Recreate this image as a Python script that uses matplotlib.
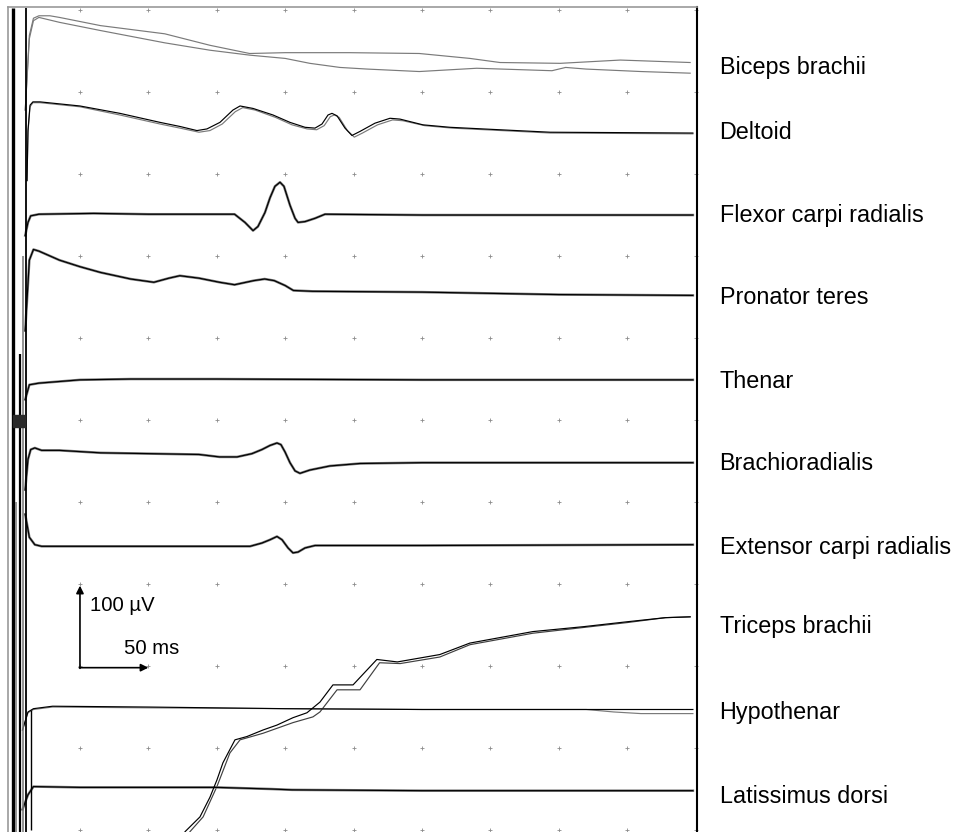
import matplotlib
matplotlib.use("Agg")
import matplotlib.pyplot as plt
from matplotlib.patches import Rectangle
import numpy as np

plt.rcParams['font.family'] = ['Liberation Sans', 'DejaVu Sans']

# ---------------- data ----------------
muscles = ["Biceps brachii", "Deltoid", "Flexor carpi radialis", "Pronator teres",
           "Thenar", "Brachioradialis", "Extensor carpi radialis", "Triceps brachii",
           "Hypothenar", "Latissimus dorsi"]
# vertical offset of each channel (µV) and of its label
offsets_uV = [-70, -149, -249, -348, -451, -552, -652, -751, -854, -952]
label_uV = [-78, -157, -259, -358, -461, -561, -663, -760, -865, -967]

# time (ms) and amplitude (µV, relative to channel offset) of the two superimposed responses
biceps_t1 = [10, 13, 16, 20, 28, 35, 65, 112, 145, 174, 200, 247, 298, 335, 357, 401, 445, 496]
biceps_v1 = [-52, 39, 60, 63, 63, 61, 51, 41, 27, 17, 18, 18, 17, 11, 6, 5, 9, 6]
biceps_t2 = [10, 13, 16, 20, 35, 65, 112, 145, 174, 200, 218, 240, 260, 298, 340, 395, 405, 420, 460, 496]
biceps_v2 = [-52, 35, 57, 61, 55, 45, 30, 21, 15, 11, 5, 0, -2, -5, -1, -4, 0, -2, -5, -7]

deltoid_t1 = [11.3, 12, 13.5, 15.6, 20.8, 50, 79.2, 108.5, 123.1, 135.5, 142.8, 152.3, 161.8, 167,
              176.5, 191.1, 203.5, 214.5, 221.8, 226.9, 231.3, 234.2, 237.9, 243.7, 248.8, 254.7,
              265.6, 276.6, 283.9, 300.7, 320.5, 344.6, 393.6, 498]
deltoid_v1 = [-59, 2, 33, 37, 37, 32, 23, 12, 7, 2, 4, 12, 27, 32, 29, 21, 12, 6, 5, 10, 21, 23,
              20, 5, -4, 1, 11, 17, 16, 9, 6, 4, 0, -1]
deltoid_t2 = [11.3, 12, 13.5, 15.6, 20.8, 50, 79.2, 108.5, 123.1, 137, 145, 154, 163.5, 169, 178,
              193, 205, 216, 223, 228.5, 233, 236, 239.5, 245.5, 250.5, 256.5, 267.5, 278.5, 286,
              302, 322, 346, 394, 498]
deltoid_v2 = [-59, 0, 31, 36, 36, 31, 21, 10, 5, 0, 2, 10, 25, 30, 27, 18, 9, 4, 3, 8, 19, 21, 18,
              2, -6, -1, 9, 15, 14, 8, 5, 3, -1, -2]

flexor_t = [10, 12, 14, 20, 60, 100, 163, 170.6, 176.5, 180.1, 185.2, 188.9, 192.5, 196.2, 199.1,
            203.5, 207.2, 209.4, 214.5, 221.8, 229.1, 300, 498]
flexor_v = [-26, -10, -2, 0, 1, 0, 0, -10, -20, -15, 2, 20, 34, 39, 34, 11, -5, -10, -9, -5, 0, -1, -1]

pronator_t = [10, 13, 16, 20, 35, 50, 65, 87, 104, 115, 123, 137, 152, 163, 177, 185, 192, 200,
              206, 220, 300, 400, 498]
pronator_v = [-43, 43, 56, 54, 43, 35, 28, 20, 16, 21, 24, 21, 16, 13, 18, 20, 18, 12, 6, 5, 4, 1, 0]

thenar_t = [10, 13, 20, 50, 87, 150, 300, 498]
thenar_v = [-24, -6, -4, 0, 1, 1, 0, 0]

brachio_t = [10, 12, 14, 17, 22, 35, 65, 101, 137, 152, 164.8, 175.7, 183, 188.9, 194, 196.9,
             199.9, 203.5, 207.2, 210.8, 218, 232.7, 254.7, 300, 498]
brachio_v = [-33, 4, 16, 18, 15, 15, 12, 11, 10, 7, 7, 11, 16, 21, 24, 22, 13, 0, -10, -13, -9,
             -4, -1, 0, 0]

extensor_t = [10, 13, 17, 22, 50, 100, 150, 174.3, 183, 188.9, 194, 197.7, 202.1, 205.7, 209.4,
              214.5, 221.8, 300, 498]
extensor_v = [37, 9, 0, -2, -2, -2, -2, -2, 2, 6, 10, 6, -4, -10, -9, -4, -1, -1, 0]

triceps_t1 = [120, 126.8, 137.7, 145, 150.1, 154.5, 163.3, 172, 183.8, 194, 205.7, 215.9, 225.4,
              234.9, 249.6, 267, 282, 313, 335, 381, 418, 450, 478, 496]
triceps_v1 = [-275, -251, -233, -209, -188, -167, -139, -135, -127, -121, -112, -106, -93, -72,
              -72, -41, -44, -35, -21, -7, -1, 5, 10, 11]
triceps_t2 = [124, 130.4, 140, 150.1, 159.6, 167, 183.8, 205.7, 220.3, 225.4, 237.9, 254.7, 269,
              284, 313, 335, 381, 418, 450, 478, 496]
triceps_v2 = [-275, -251, -233, -196, -155, -139, -131, -118, -111, -105, -78, -78, -45, -46,
              -38, -23, -9, -2, 4, 10, 11]

hypo_t1 = [8, 12, 16, 30, 100, 200, 300, 420, 498]
hypo_v1 = [-24, -2, 2, 5, 4, 2, 1, 1, 1]
hypo_t2 = [8, 12, 16, 30, 100, 200, 300, 420, 440, 460, 498]
hypo_v2 = [-24, -3, 1, 4, 3, 2, 1, 1, -2, -4, -4]

lat_t = [8, 12, 16, 50, 150, 190, 205, 300, 498]
lat_v = [-23, -5, 5, 4, 4, 2, 1, 0, 0]

# stimulus artefact (time ms, top µV, bottom µV, colour, width)
artefact_t = [0.8, 10.5, 8.5, 6.5, 3.5, 14.5]
artefact_top = [3, 3, -300, -420, -600, -854]
artefact_bot = [-1003, -1003, -1003, -1003, -1003, -1000]
artefact_col = ['black', 'black', '#808080', 'black', '#808080', 'black']
artefact_lw = [2.4, 1.3, 1.2, 1.6, 1.2, 1.0]

scale_uV = 100
scale_ms = 50
scale_origin = (50, -802)

grid_t = [50, 100, 150, 200, 250, 300, 350, 400, 450, 500]
grid_v = [0, -100, -200, -300, -400, -500, -600, -700, -800, -900, -1000]

GRAY = '#7a7a7a'
channels = [
    (biceps_t1, biceps_v1, GRAY, biceps_t2, biceps_v2, GRAY),
    (deltoid_t2, deltoid_v2, GRAY, deltoid_t1, deltoid_v1, 'black'),
    (flexor_t, flexor_v, GRAY, flexor_t, flexor_v, 'black'),
    (pronator_t, pronator_v, GRAY, pronator_t, pronator_v, 'black'),
    (thenar_t, thenar_v, GRAY, thenar_t, thenar_v, 'black'),
    (brachio_t, brachio_v, GRAY, brachio_t, brachio_v, 'black'),
    (extensor_t, extensor_v, GRAY, extensor_t, extensor_v, 'black'),
    (triceps_t2, triceps_v2, '#404040', triceps_t1, triceps_v1, 'black'),
    (hypo_t2, hypo_v2, GRAY, hypo_t1, hypo_v1, 'black'),
    (lat_t, lat_v, GRAY, lat_t, lat_v, 'black'),
]

# ---------------- figure ----------------
fig = plt.figure(figsize=(9.56, 8.32), dpi=100)
ax = fig.add_axes([8 / 956, 0.0, 689 / 956, 1 - 7 / 832])
ax.set_xlim(-2.6, 501)
ax.set_ylim(-1002.4, 3.7)
ax.set_xticks([])
ax.set_yticks([])
ax.spines['bottom'].set_visible(False)
ax.spines['left'].set_color('#9a9a9a')
ax.spines['top'].set_color('#9a9a9a')
ax.spines['left'].set_linewidth(1.2)
ax.spines['top'].set_linewidth(1.2)
ax.spines['right'].set_color('black')
ax.spines['right'].set_linewidth(1.5)

# dotted grid
GT, GV = np.meshgrid(grid_t, grid_v)
ax.plot(GT.ravel(), GV.ravel(), linestyle='none', marker='+', markersize=3,
        markeredgewidth=0.6, color='#8c8c8c', clip_on=False, zorder=1)

# artefact
for t, top, bot, c, lw in zip(artefact_t, artefact_top, artefact_bot, artefact_col, artefact_lw):
    ax.plot([t, t], [top, bot], color=c, lw=lw, zorder=3, solid_capstyle='butt')
ax.add_patch(Rectangle((1.0, -508), 8.5, 14, facecolor='#2a2a2a', edgecolor='#2a2a2a', zorder=4))

# traces
for off, (t1, v1, c1, t2, v2, c2) in zip(offsets_uV, channels):
    lw1 = 0.85 if c1 == c2 or t1 is not t2 else 1.8
    ax.plot(t1, np.array(v1) + off, color=c1, lw=lw1, zorder=2)
    ax.plot(t2, np.array(v2) + off, color=c2, lw=0.85, zorder=2.5)

# labels
for name, ly in zip(muscles, label_uV):
    ax.text(517.5, ly, name, fontsize=16.8, va='baseline', ha='left', clip_on=False)

# scale bars
x0, y0 = scale_origin
ax.annotate('', xy=(x0, y0 + scale_uV), xytext=(x0, y0 - 0.8),
            arrowprops=dict(arrowstyle='-|>', color='black', lw=1.2, mutation_scale=11,
                            shrinkA=0, shrinkB=0))
ax.annotate('', xy=(x0 + scale_ms, y0), xytext=(x0 - 0.5, y0),
            arrowprops=dict(arrowstyle='-|>', color='black', lw=1.2, mutation_scale=11,
                            shrinkA=0, shrinkB=0))
ax.text(x0 + 7, y0 + 76, '100 µV', fontsize=14.6, va='center', ha='left')
ax.text(x0 + 32, y0 + 23, f'{scale_ms} ms', fontsize=14.6, va='center', ha='left')

fig.savefig('out.png', dpi=100)
